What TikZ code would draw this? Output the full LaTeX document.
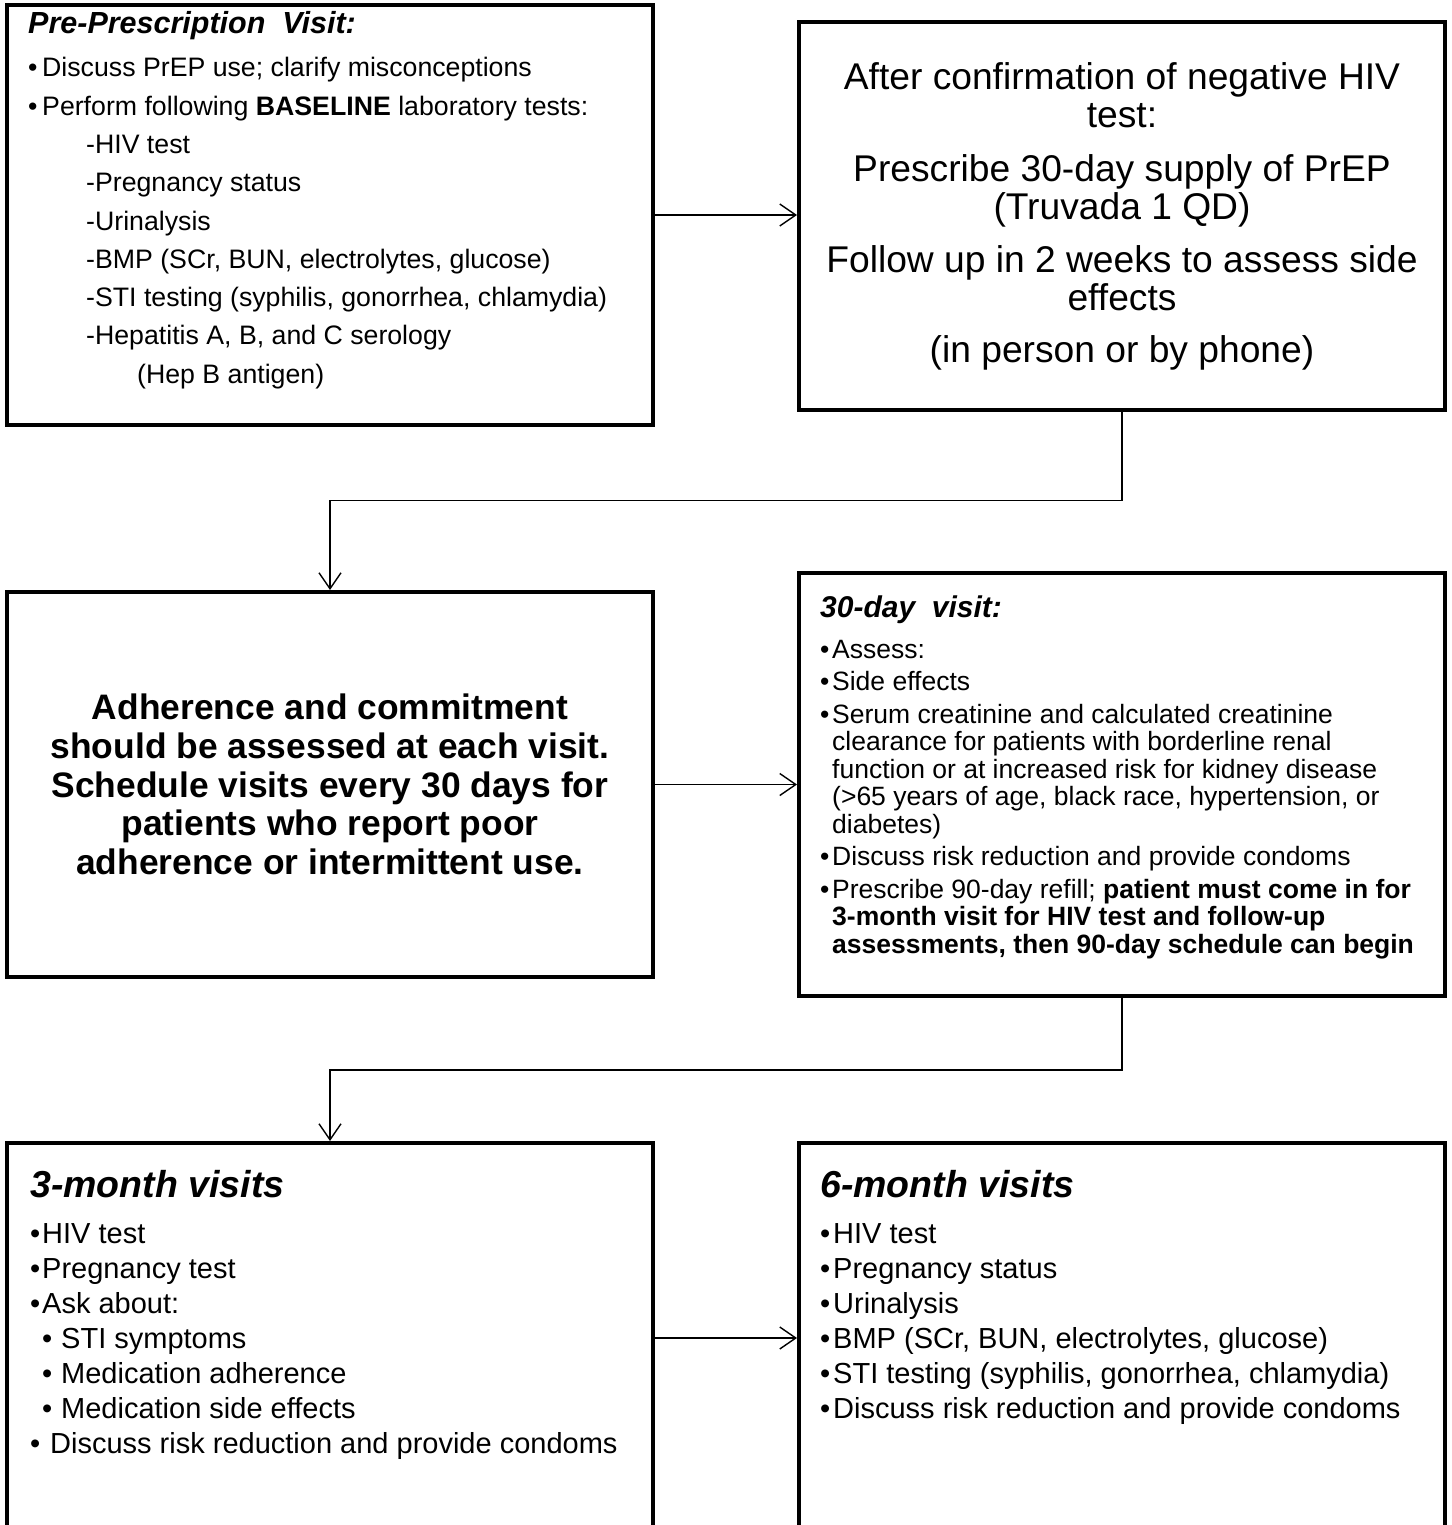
\documentclass[tikz,border=0pt]{standalone}
\usepackage{fontspec}
\setmainfont{Liberation Sans}
\usetikzlibrary{arrows.meta}
\newcommand{\bul}[1][12pt]{\makebox[#1][l]{\textbullet}}
\newcommand{\ind}{\hspace*{12pt}}
\tikzset{
  visitbox/.style={draw, line width=4pt, minimum width=646pt, inner sep=0pt},
  listtext/.style={anchor=north west, inner sep=0pt, align=left},
  flow/.style={line width=1.4pt, -{Straight Barb[length=16pt,width=22pt]}}
}

\begin{document}
\begin{tikzpicture}[x=1pt,y=-1pt]
\useasboundingbox (0,0) rectangle (1451,1525);

\node[visitbox, minimum height=420pt] (pre) at (330,215) {};
\node[listtext, font=\fontsize{26.7}{38.3}\selectfont] (pretext) at (28,11.5) {{\fontsize{30.5}{38.3}\selectfont\bfseries\itshape Pre-Prescription\ \ Visit:}\\[4.7pt]
  \bul[14pt]Discuss PrEP use; clarify misconceptions\\
  \bul[14pt]Perform following \textbf{BASELINE} laboratory tests:\\
  \hspace*{58pt}-HIV test\\
  \hspace*{58pt}-Pregnancy status\\
  \hspace*{58pt}-Urinalysis\\
  \hspace*{58pt}-BMP (SCr, BUN, electrolytes, glucose)\\
  \hspace*{58pt}-STI testing (syphilis, gonorrhea, chlamydia)\\
  \hspace*{58pt}-Hepatitis A, B, and C serology\\
  \hspace*{109pt}(Hep B antigen)};

\node[visitbox, minimum height=387pt, align=center, font=\fontsize{37.2}{38}\selectfont] (confirm) at (1122,216) {After confirmation of negative HIV\\ test:\\[16pt]
  Prescribe 30-day supply of PrEP\\ (Truvada 1 QD)\\[15pt]
  Follow up in 2 weeks to assess side\\ effects\\[14pt]
  (in person or by phone)};

\node[visitbox, minimum height=385pt, align=center, font=\fontsize{35.4}{38.7}\selectfont\bfseries] (adh) at (330,784.5) {Adherence and commitment\\ should be assessed at each visit.\\ Schedule visits every 30 days for\\ patients who report poor\\ adherence or intermittent use.};

\node[visitbox, minimum height=423pt] (day30) at (1122,784.5) {};
\node[listtext, font=\fontsize{26.5}{27.5}\selectfont] (day30text) at (820,595.5) {{\fontsize{30}{27.5}\selectfont\bfseries\itshape 30-day\ \ visit:}\\[13.5pt]
  \bul Assess:\\[5pt]
  \bul Side effects\\[5pt]
  \bul Serum creatinine and calculated creatinine\\
  \ind clearance for patients with borderline renal\\
  \ind function or at increased risk for kidney disease\\
  \ind (>65 years of age, black race, hypertension, or\\
  \ind diabetes)\\[5pt]
  \bul Discuss risk reduction and provide condoms\\[5pt]
  \bul Prescribe 90-day refill; \textbf{patient must come in for}\\
  \ind\textbf{3-month visit for HIV test and follow-up}\\
  \ind\textbf{assessments, then 90-day schedule can begin}};

\node[visitbox, minimum height=390pt] (m3) at (330,1338) {};
\node[listtext, font=\fontsize{29}{35}\selectfont] (m3text) at (30,1170) {{\fontsize{37.5}{35}\selectfont\bfseries\itshape 3-month visits}\\[11pt]
  \bul HIV test\\
  \bul Pregnancy test\\
  \bul Ask about:\\
  \ind\bul[19pt]STI symptoms\\
  \ind\bul[19pt]Medication adherence\\
  \ind\bul[19pt]Medication side effects\\
  \bul[20pt]Discuss risk reduction and provide condoms};

\node[visitbox, minimum height=390pt] (m6) at (1122,1338) {};
\node[listtext, font=\fontsize{29}{35}\selectfont] (m6text) at (820,1170) {{\fontsize{37.5}{35}\selectfont\bfseries\itshape 6-month visits}\\[11pt]
  \bul[13pt]HIV test\\
  \bul[13pt]Pregnancy status\\
  \bul[13pt]Urinalysis\\
  \bul[13pt]BMP (SCr, BUN, electrolytes, glucose)\\
  \bul[13pt]STI testing (syphilis, gonorrhea, chlamydia)\\
  \bul[13pt]Discuss risk reduction and provide condoms};

\draw[flow] (pre.east) -- (pre.east -| confirm.west);
\draw[flow] (confirm.south) -- ++(0,89) -| (adh.north);
\draw[flow] (adh.east) -- (adh.east -| day30.west);
\draw[flow] (day30.south) -- ++(0,72) -| (m3.north);
\draw[flow] (m3.east) -- (m3.east -| m6.west);
\end{tikzpicture}
\end{document}
